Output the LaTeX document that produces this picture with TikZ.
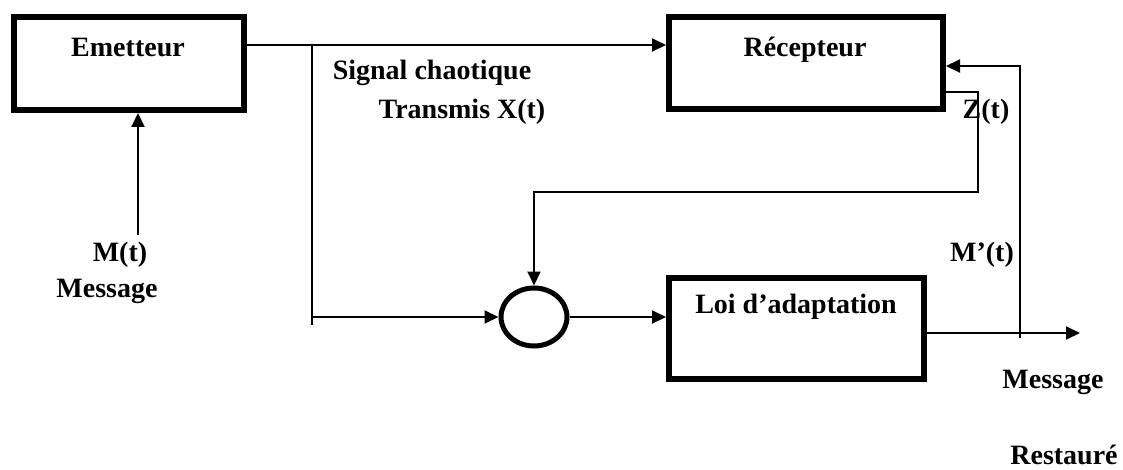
\documentclass[tikz,border=0pt]{standalone}
\usepackage{fontspec}
\setmainfont{Liberation Serif}
\usetikzlibrary{arrows.meta,shapes.geometric}
\begin{document}
\begin{tikzpicture}[x=0.5pt,y=-0.5pt,
  every node/.style={font=\bfseries\fontsize{14}{16}\selectfont, inner sep=0pt, outer sep=0pt},
  blockbox/.style={draw, line width=3pt, outer sep=1.5pt, rectangle},
  wire/.style={line width=1pt},
  arr/.style={wire, -{Triangle[length=7pt,width=6.5pt]}},
  lbl/.style={text=black}]
\useasboundingbox (0,0) rectangle (1123,470);
\fill[white] (0,0) rectangle (1123,470);
% blocks
\node[blockbox, minimum width=115pt, minimum height=46.5pt] (emet) at (129,63.5) {};
\node[lbl] (emett) at (128,48) {Emetteur};
\node[blockbox, minimum width=137pt, minimum height=46pt] (recep) at (806,63) {};
\node[lbl] (recept) at (805,50) {Récepteur};
\node[blockbox, minimum width=127.5pt, minimum height=50.5pt] (loi) at (796.5,328.5) {};
\node[lbl] (loit) at (796,307) {Loi d’adaptation};
\node[draw, ellipse, line width=2.5pt, outer sep=1.25pt, minimum width=33pt, minimum height=29pt] (circ) at (534,317) {};
% labels
\node[lbl] (sig) at (432,73) {Signal chaotique};
\node[lbl] (trx) at (462,112) {Transmis X(t)};
\node[lbl] (mt) at (120,255) {M(t)};
\node[lbl] (msg) at (107,291) {Message};
\node[lbl] (zt) at (986,112) {Z(t)};
\node[lbl] (mpt) at (982,255) {M’(t)};
\node[lbl] (msgr) at (1053,382) {Message};
\node[lbl] (rest) at (1064,455) {Restauré};
% coordinates
\coordinate (y45) at (0,45);
\coordinate (br) at (312,45);
\coordinate (brb) at (312,325);
\coordinate (min) at (138,235);
\coordinate (y333) at (0,333);
\coordinate (outend) at (1080,333);
\coordinate (fbb) at (1020,338);
\coordinate (fbt) at (1020,66);
\coordinate (za) at (978,92);
\coordinate (zb) at (978,192);
\coordinate (zc) at (534,192);
% connectors
\draw[arr] (emet.east |- y45) -- (recep.west |- y45);
\draw[wire] (br) -- (brb);
\draw[arr] (br |- circ.west) -- (circ.west);
\draw[arr] (min) -- (min |- emet.south);
\draw[arr] (circ.east) -- (loi.west |- circ.east);
\draw[arr] (loi.east |- y333) -- (outend);
\draw[arr] (fbb) -- (fbt) -- (recep.east |- fbt);
\draw[arr] (recep.east |- za) -- (za) -- (zb) -- (zc) -- (circ.north);
\end{tikzpicture}
\end{document}
